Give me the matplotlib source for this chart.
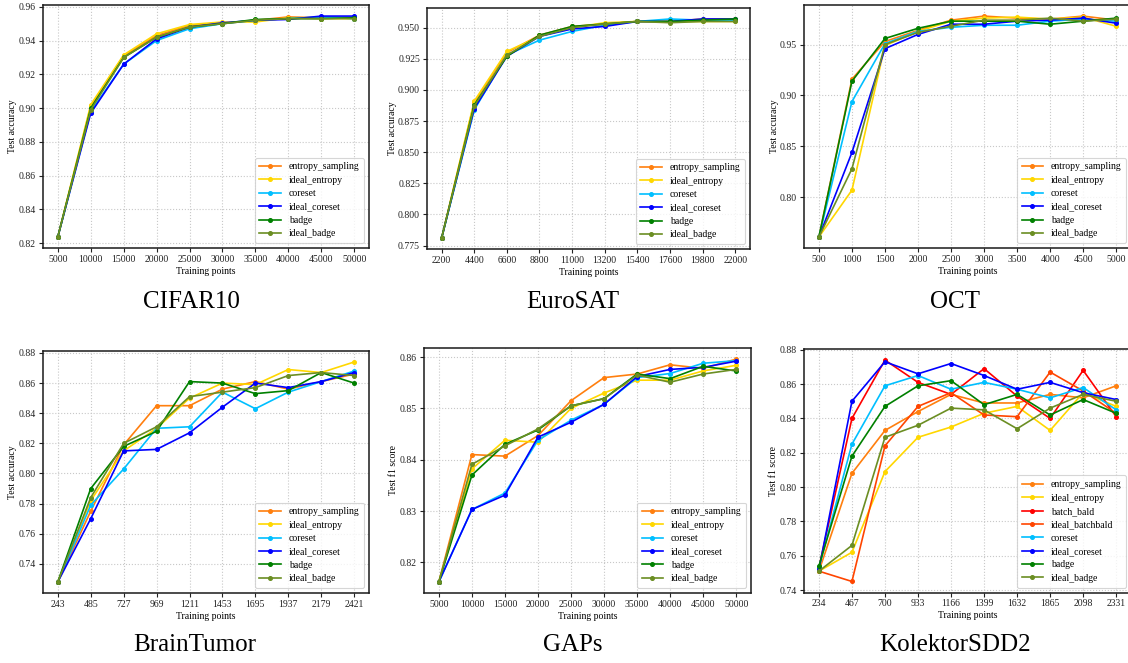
import matplotlib
matplotlib.use("Agg")
import matplotlib.pyplot as plt

plt.rcParams["font.family"] = ["Liberation Serif", "DejaVu Serif"]
plt.rcParams["mathtext.fontset"] = "stix"

# ---------------- data ----------------
cifar_x = [5000, 10000, 15000, 20000, 25000, 30000, 35000, 40000, 45000, 50000]
cifar = {
    "entropy_sampling": [0.8237, 0.901, 0.931, 0.943, 0.949, 0.950, 0.952, 0.954, 0.9535, 0.9535],
    "ideal_entropy":    [0.8237, 0.902, 0.9315, 0.944, 0.9495, 0.951, 0.951, 0.9535, 0.953, 0.953],
    "coreset":          [0.8237, 0.898, 0.926, 0.940, 0.947, 0.950, 0.952, 0.953, 0.954, 0.953],
    "ideal_coreset":    [0.8237, 0.897, 0.926, 0.941, 0.948, 0.9505, 0.952, 0.9525, 0.9545, 0.9545],
    "badge":            [0.8237, 0.900, 0.930, 0.942, 0.948, 0.950, 0.9525, 0.953, 0.953, 0.9535],
    "ideal_badge":      [0.8237, 0.899, 0.930, 0.942, 0.948, 0.950, 0.952, 0.953, 0.953, 0.953],
}

eurosat_x = [2200, 4400, 6600, 8800, 11000, 13200, 15400, 17600, 19800, 22000]
eurosat = {
    "entropy_sampling": [0.781, 0.890, 0.930, 0.944, 0.951, 0.953, 0.955, 0.955, 0.957, 0.957],
    "ideal_entropy":    [0.781, 0.891, 0.931, 0.943, 0.950, 0.954, 0.955, 0.955, 0.955, 0.955],
    "coreset":          [0.781, 0.884, 0.928, 0.940, 0.947, 0.952, 0.955, 0.957, 0.956, 0.956],
    "ideal_coreset":    [0.781, 0.885, 0.927, 0.943, 0.949, 0.951, 0.955, 0.955, 0.957, 0.957],
    "badge":            [0.781, 0.888, 0.927, 0.944, 0.951, 0.953, 0.955, 0.955, 0.956, 0.957],
    "ideal_badge":      [0.781, 0.887, 0.928, 0.943, 0.950, 0.953, 0.955, 0.954, 0.955, 0.955],
}

oct_x = [500, 1000, 1500, 2000, 2500, 3000, 3500, 4000, 4500, 5000]
oct_ = {
    "entropy_sampling": [0.761, 0.916, 0.953, 0.964, 0.974, 0.978, 0.976, 0.975, 0.978, 0.974],
    "ideal_entropy":    [0.761, 0.807, 0.949, 0.963, 0.973, 0.976, 0.977, 0.975, 0.977, 0.968],
    "coreset":          [0.761, 0.894, 0.951, 0.963, 0.967, 0.969, 0.969, 0.973, 0.975, 0.973],
    "ideal_coreset":    [0.761, 0.844, 0.946, 0.960, 0.970, 0.970, 0.973, 0.974, 0.976, 0.971],
    "badge":            [0.761, 0.914, 0.956, 0.966, 0.973, 0.973, 0.973, 0.970, 0.973, 0.976],
    "ideal_badge":      [0.761, 0.828, 0.950, 0.962, 0.968, 0.974, 0.974, 0.976, 0.973, 0.975],
}

brain_x = [243, 485, 727, 969, 1211, 1453, 1695, 1937, 2179, 2421]
brain = {
    "entropy_sampling": [0.728, 0.775, 0.819, 0.845, 0.845, 0.856, 0.861, 0.856, 0.861, 0.866],
    "ideal_entropy":    [0.728, 0.782, 0.815, 0.830, 0.850, 0.860, 0.859, 0.869, 0.867, 0.874],
    "coreset":          [0.728, 0.779, 0.803, 0.830, 0.831, 0.854, 0.843, 0.854, 0.861, 0.868],
    "ideal_coreset":    [0.728, 0.770, 0.815, 0.816, 0.827, 0.844, 0.860, 0.857, 0.861, 0.867],
    "badge":            [0.728, 0.790, 0.818, 0.828, 0.861, 0.860, 0.853, 0.855, 0.867, 0.860],
    "ideal_badge":      [0.728, 0.784, 0.820, 0.831, 0.851, 0.854, 0.857, 0.865, 0.867, 0.865],
}

gaps_x = [5000, 10000, 15000, 20000, 25000, 30000, 35000, 40000, 45000, 50000]
gaps = {
    "entropy_sampling": [0.8162, 0.8410, 0.8407, 0.8447, 0.8515, 0.8560, 0.8567, 0.8585, 0.8578, 0.8596],
    "ideal_entropy":    [0.8162, 0.8382, 0.8438, 0.8434, 0.8500, 0.8530, 0.8555, 0.8555, 0.8573, 0.8584],
    "coreset":          [0.8162, 0.8303, 0.8335, 0.8438, 0.8477, 0.8508, 0.8560, 0.8568, 0.8588, 0.8593],
    "ideal_coreset":    [0.8162, 0.8303, 0.8331, 0.8444, 0.8473, 0.8508, 0.8562, 0.8576, 0.8580, 0.8592],
    "badge":            [0.8162, 0.8370, 0.8430, 0.8458, 0.8505, 0.8519, 0.8567, 0.8558, 0.8582, 0.8573],
    "ideal_badge":      [0.8162, 0.8391, 0.8427, 0.8460, 0.8505, 0.8519, 0.8565, 0.8551, 0.8567, 0.8576],
}

kolektor_x = [234, 467, 700, 933, 1166, 1399, 1632, 1865, 2098, 2331]
kolektor = {
    "entropy_sampling": [0.751, 0.808, 0.833, 0.844, 0.854, 0.849, 0.849, 0.854, 0.852, 0.859],
    "ideal_entropy":    [0.751, 0.762, 0.809, 0.829, 0.835, 0.843, 0.847, 0.833, 0.855, 0.847],
    "batch_bald":       [0.753, 0.840, 0.874, 0.861, 0.854, 0.869, 0.853, 0.840, 0.868, 0.841],
    "ideal_batchbald":  [0.751, 0.745, 0.824, 0.847, 0.855, 0.842, 0.841, 0.867, 0.856, 0.843],
    "coreset":          [0.753, 0.825, 0.859, 0.865, 0.857, 0.861, 0.857, 0.852, 0.858, 0.845],
    "ideal_coreset":    [0.752, 0.850, 0.873, 0.866, 0.872, 0.865, 0.857, 0.861, 0.855, 0.851],
    "badge":            [0.754, 0.818, 0.847, 0.859, 0.862, 0.848, 0.854, 0.842, 0.851, 0.843],
    "ideal_badge":      [0.751, 0.766, 0.829, 0.836, 0.846, 0.845, 0.834, 0.846, 0.854, 0.850],
}

colors = {
    "entropy_sampling": "#ff7f0e",
    "ideal_entropy": "#ffd700",
    "batch_bald": "#ff0000",
    "ideal_batchbald": "#ff4500",
    "coreset": "#00bfff",
    "ideal_coreset": "#0000ff",
    "badge": "#008000",
    "ideal_badge": "#6b8e23",
}

# (title, x values, series, y label, axes rect in figure fraction, title x)
panels = [
    ("CIFAR10", cifar_x, cifar, "Test accuracy", [0.0381, 0.6259, 0.2890, 0.3665], 0.170),
    ("EuroSAT", eurosat_x, eurosat, "Test accuracy", [0.3785, 0.6244, 0.2863, 0.3635], 0.508),
    ("OCT", oct_x, oct_, "Test accuracy", [0.7128, 0.6259, 0.2899, 0.3665], 0.847),
    ("BrainTumor", brain_x, brain, "Test accuracy", [0.0381, 0.1056, 0.2890, 0.3650], 0.173),
    ("GAPs", gaps_x, gaps, "Test f1 score", [0.3759, 0.1056, 0.2899, 0.3695], 0.508),
    ("KolektorSDD2", kolektor_x, kolektor, "Test f1 score", [0.7128, 0.1063, 0.2899, 0.3673], 0.847),
]

fig = plt.figure(figsize=(11.28, 6.63), dpi=100)

for title, xs, series, ylabel, rect, tx in panels:
    ax = fig.add_axes(rect)
    for name, ys in series.items():
        ax.plot(xs, ys, color=colors[name], marker="o", markersize=2.6,
                linewidth=1.2, label=name)
    ax.set_xticks(xs)
    ax.set_xticklabels([str(v) for v in xs])
    ax.tick_params(axis="both", labelsize=7, length=3, width=0.8, pad=2, colors="#222222")
    ax.set_xlabel("Training points", fontsize=7, labelpad=2)
    ax.set_ylabel(ylabel, fontsize=7, labelpad=1)
    ax.grid(True, linestyle=":", linewidth=0.8, color="#c8c8c8")
    for sp in ax.spines.values():
        sp.set_linewidth(1.1)
        sp.set_color("#1a1a1a")
    leg = ax.legend(loc="lower right", fontsize=7, frameon=True, fancybox=True,
                    handlelength=2.2, borderpad=0.5, labelspacing=0.45,
                    handletextpad=0.8)
    leg.get_frame().set_edgecolor("#cccccc")
    leg.get_frame().set_linewidth(0.8)
    ty = 0.5445 if rect[1] > 0.5 else 0.0271
    fig.text(tx, ty, title, fontsize=18, ha="center", va="center")

fig.savefig("out.png", dpi=100)
